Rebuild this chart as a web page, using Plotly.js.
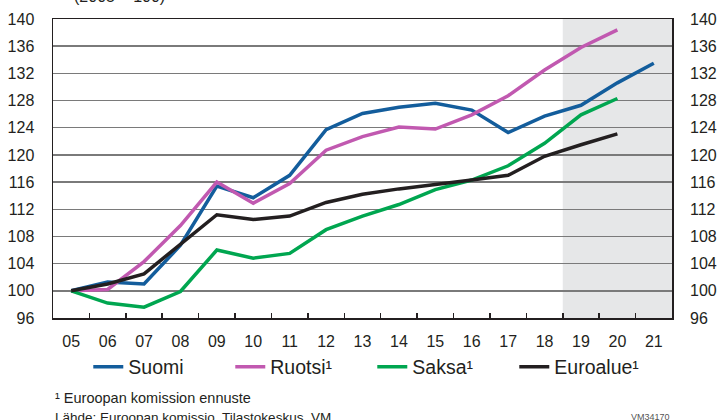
<!DOCTYPE html>
<html>
<head>
<meta charset="utf-8">
<script src="https://cdn.plot.ly/plotly-3.0.1.min.js"></script>
<style>html,body{margin:0;padding:0;background:#fff;}#chart{width:721px;height:420px;}</style>
</head>
<body>
<div id="chart"></div>
<script>
const years = ["05","06","07","08","09","10","11","12","13","14","15","16","17","18","19","20","21"];
const suomi = [100, 101.3, 101.0, 106.7, 115.4, 113.7, 117.0, 123.7, 126.1, 127.0, 127.6, 126.6, 123.3, 125.7, 127.3, 130.6, 133.5];
const ruotsi = [100, 100.2, 104.3, 109.6, 116.0, 112.9, 115.8, 120.7, 122.7, 124.1, 123.8, 125.9, 128.7, 132.5, 135.8, 138.4, null];
const saksa = [100, 98.2, 97.6, 99.9, 106.0, 104.8, 105.5, 109.0, 111.0, 112.7, 114.9, 116.3, 118.4, 121.7, 125.9, 128.3, null];
const euroalue = [100, 101.0, 102.5, 106.8, 111.2, 110.5, 111.0, 113.0, 114.2, 115.0, 115.6, 116.3, 117.0, 119.8, 121.5, 123.1, null];
const seriesNames = ["Suomi", "Ruotsi¹", "Saksa¹", "Euroalue¹"];
const yTicks = [96,100,104,108,112,116,120,124,128,132,136,140];

const colors = ["#135d9c", "#c159b0", "#00a650", "#231f20"];
const data = [suomi, ruotsi, saksa, euroalue].map((v, i) => ({
  type: "scatter", mode: "lines", x: years, y: v, name: seriesNames[i],
  line: {color: colors[i], width: 3.5}, connectgaps: false
}));
data.push({type:"scatter", mode:"lines", x: years, y: euroalue.map(()=>null), yaxis:"y2", showlegend:false, hoverinfo:"skip"});

const font = "Liberation Sans, Arial, sans-serif";
const layout = {
  width: 721, height: 420,
  margin: {l: 53, r: 49, t: 19, b: 102, autoexpand: false},
  paper_bgcolor: "#fff", plot_bgcolor: "#fff",
  font: {family: font, color: "#231f20", size: 16},
  showlegend: true,
  legend: {orientation: "h", x: 0.057, xanchor: "left", y: -0.164, yanchor: "middle",
    font: {size: 19.5, family: font, color: "#231f20"}, entrywidth: 97, itemwidth: 30, tracegroupgap: 0},
  xaxis: {type: "category", range: [-0.5, 16.5], showgrid: false, ticks: "inside", tickson: "boundaries",
    ticklen: 5, tickcolor: "#231f20", tickwidth: 1.5, showline: true, linecolor: "#231f20", linewidth: 1.5,
    mirror: true, tickfont: {size: 16}, ticklabelstandoff: 8, zeroline: false, automargin: false},
  yaxis: {range: [96, 140], tickvals: yTicks, ticktext: yTicks.map(String), showgrid: true, gridcolor: "#7a7a7a", gridwidth: 1.5,
    showline: true, linecolor: "#231f20", linewidth: 1.5, mirror: true, ticks: "", tickfont: {size: 16},
    ticklabelstandoff: 14, zeroline: false, automargin: false},
  yaxis2: {range: [96, 140], tickvals: yTicks, ticktext: yTicks.map(String), overlaying: "y", side: "right",
    showgrid: false, ticks: "", tickfont: {size: 16}, ticklabelstandoff: 17, zeroline: false, showline: false, automargin: false},
  shapes: [{type: "rect", xref: "x", yref: "paper", x0: 13.5, x1: 16.5, y0: 0, y1: 1,
    fillcolor: "#e6e7e8", line: {width: 0}, layer: "below"}],
  annotations: [
    {xref: "paper", yref: "paper", x: 0, y: 0, xanchor: "left", yanchor: "top", yshift: -70, xshift: 0,
     text: "¹ Euroopan komission ennuste", showarrow: false, font: {size: 14.5, family: font, color: "#231f20"}},
    {xref: "paper", yref: "paper", x: 0, y: 0, xanchor: "left", yanchor: "top", yshift: -90, xshift: 0,
     text: "Lähde: Euroopan komissio, Tilastokeskus, VM", showarrow: false, font: {size: 13.5, family: font, color: "#231f20"}},
    {xref: "paper", yref: "paper", x: 1, y: 0, xanchor: "right", yanchor: "top", yshift: -92, xshift: 0,
     text: "VM34170", showarrow: false, font: {size: 9, family: font, color: "#555"}},
    {xref: "paper", yref: "paper", x: 0.03, y: 1, xanchor: "left", yanchor: "bottom", yshift: 12,
     text: "(2005 = 100)", showarrow: false, font: {size: 16, family: font, color: "#231f20"}}
  ]
};
Plotly.newPlot("chart", data, layout, {displayModeBar: false, staticPlot: true});
</script>
</body>
</html>
